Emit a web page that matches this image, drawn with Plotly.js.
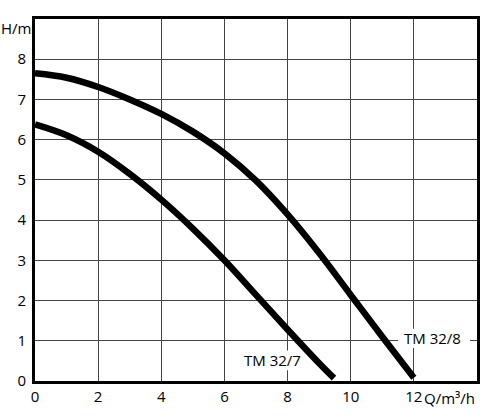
<!DOCTYPE html>
<html><head><meta charset="utf-8">
<script src="https://cdn.plot.ly/plotly-3.0.1.min.js"></script>
<style>html,body{margin:0;padding:0;background:#fff}#c{width:480px;height:420px}</style>
</head><body><div id="c"></div>
<script>
const q8 = [0,1,2,3,4,5,6,7,8,9,10,11,12];
const h8 = [7.65,7.54,7.31,7.0,6.64,6.2,5.66,4.98,4.14,3.18,2.14,1.1,0.08];
const q7 = [0,1,2,3,4,5,6,7,8,9,9.47];
const h7 = [6.38,6.11,5.70,5.15,4.51,3.79,3.0,2.14,1.28,0.44,0.07];
const xTicks = [0,2,4,6,8,10,12];
const yTicks = [0,1,2,3,4,5,6,7,8];
const seriesNames = ['TM 32/8','TM 32/7'];
const xLabel = 'Q/m³/h';
const yLabel = 'H/m';

const F = {family:'Open Sans, sans-serif', size:15, color:'#000'};
const lineStyle = {color:'#000', width:6.5, shape:'spline', smoothing:1};
const data = [
  {x:q8, y:h8, mode:'lines', line:lineStyle, name:seriesNames[0], hoverinfo:'skip'},
  {x:q7, y:h7, mode:'lines', line:lineStyle, name:seriesNames[1], hoverinfo:'skip'}
];
const axBase = {showgrid:true, gridcolor:'#444', gridwidth:1, zeroline:false, showline:true,
  linecolor:'#000', linewidth:3, mirror:true, ticks:'', tickfont:F, fixedrange:true};
const layout = {
  width:480, height:420,
  margin:{l:35, r:3, t:19, b:39},
  paper_bgcolor:'#fff', plot_bgcolor:'#fff',
  showlegend:false,
  font:F,
  xaxis:Object.assign({range:[0,14], tickvals:xTicks, ticktext:xTicks.map(String)}, axBase),
  yaxis:Object.assign({range:[0,9], tickvals:yTicks, ticktext:yTicks.map(String), ticklabelstandoff:3}, axBase),
  shapes:[
    {type:'rect', layer:'between', xref:'x', yref:'y', x0:11.5, x1:13.78, y0:0.82, y1:1.3, fillcolor:'#fff', line:{width:0}},
    {type:'rect', layer:'between', xref:'x', yref:'y', x0:6.5, x1:8.55, y0:0.27, y1:0.76, fillcolor:'#fff', line:{width:0}}
  ],
  annotations:[
    {x:12.6, y:1.06, xref:'x', yref:'y', text:seriesNames[0], showarrow:false, font:F},
    {x:7.52, y:0.51, xref:'x', yref:'y', text:seriesNames[1], showarrow:false, font:F},
    {x:1, y:0, xref:'paper', yref:'paper', xanchor:'right', yanchor:'top', xshift:0, yshift:-5, text:xLabel, showarrow:false, font:F},
    {x:0, y:1, xref:'paper', yref:'paper', xanchor:'right', yanchor:'middle', xshift:-2, yshift:-9, text:yLabel, showarrow:false, font:F}
  ]
};
Plotly.newPlot('c', data, layout, {staticPlot:true});
</script></body></html>
